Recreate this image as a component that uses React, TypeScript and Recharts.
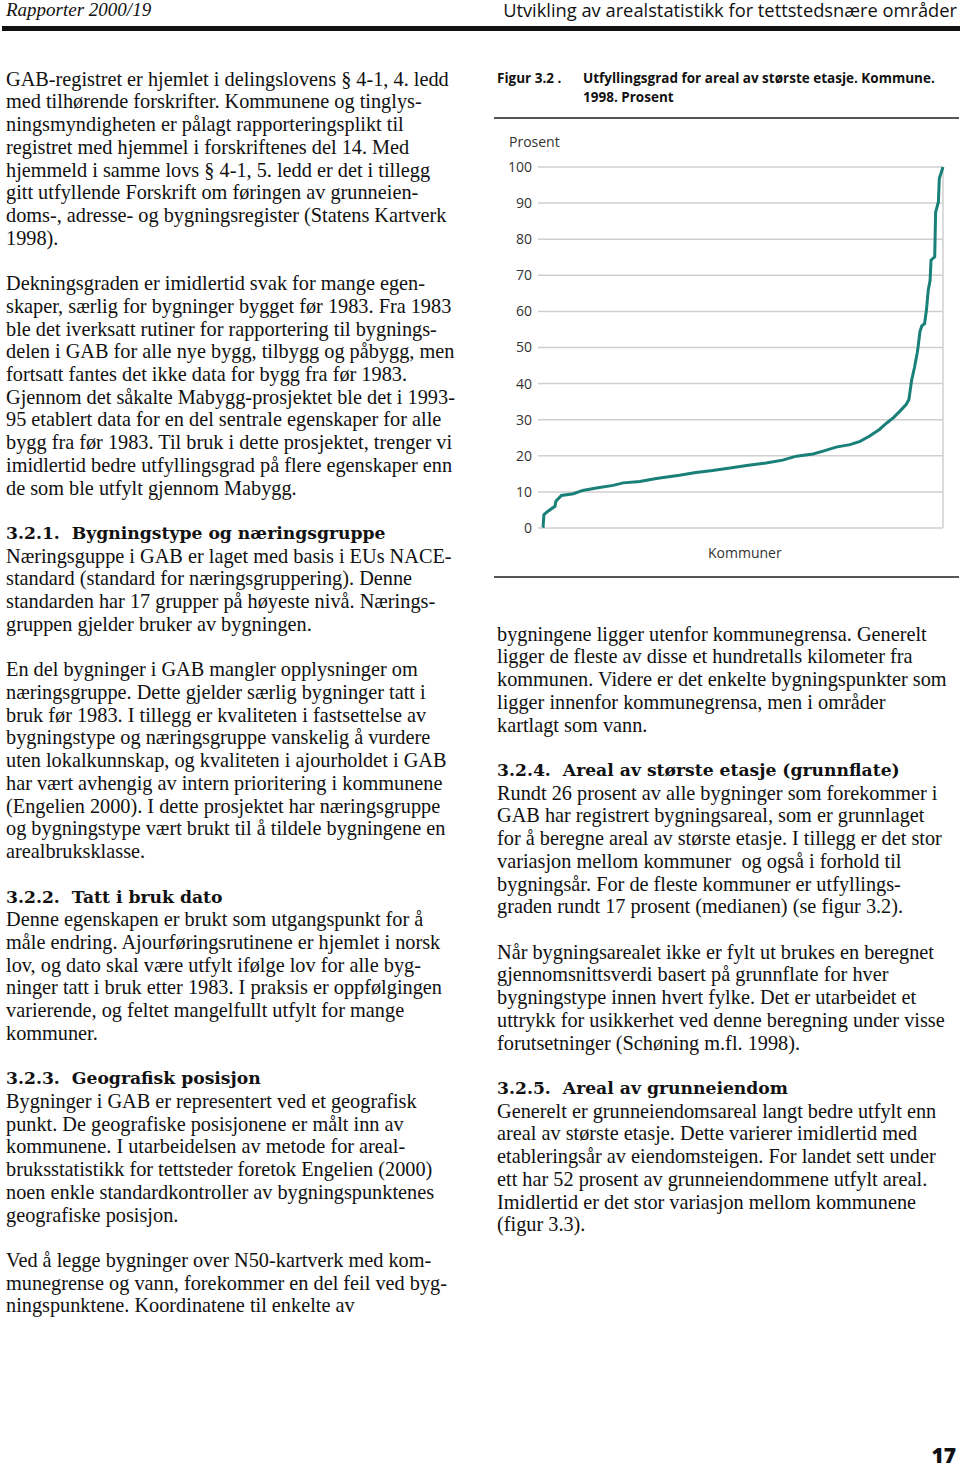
import { LineChart, Line, XAxis, YAxis, CartesianGrid, ReferenceLine } from 'recharts'

// rank of kommune (sorted) and share of buildings with area filled in, percent
const kommuneRank = [
  0, 1, 5, 13, 14, 20, 33, 43, 58, 76, 87, 105, 123, 148, 166, 184, 203, 221, 242, 260,
  275, 293, 304, 318, 333, 344, 354, 365, 373, 380, 387, 394, 397, 400, 403, 406, 407,
  409, 411, 414, 416, 418, 420, 421, 425, 426, 429, 430, 434,
]
const fillPercent = [
  0, 3.7, 4.6, 6, 7.4, 9, 9.5, 10.4, 11.1, 11.8, 12.5, 12.9, 13.7, 14.6, 15.4, 15.9, 16.6,
  17.3, 18, 18.8, 19.9, 20.5, 21.3, 22.4, 23.1, 24, 25.4, 27.3, 29.1, 30.5, 32.3, 34.2, 35.6,
  41, 44.4, 48.5, 50.2, 54.4, 56, 56.6, 60.3, 65.9, 68.6, 74.2, 75.1, 87.5, 90.3, 96.8, 100,
]
const yTicks = [0, 10, 20, 30, 40, 50, 60, 70, 80, 90, 100]

const data = kommuneRank.map((r, i) => ({ rank: r, pct: fillPercent[i] }))

const leftLines = [
  'GAB-registret er hjemlet i delingslovens § 4-1, 4. ledd',
  'med tilhørende forskrifter. Kommunene og tinglys-',
  'ningsmyndigheten er pålagt rapporteringsplikt til',
  'registret med hjemmel i forskriftenes del 14. Med',
  'hjemmeld i samme lovs § 4-1, 5. ledd er det i tillegg',
  'gitt utfyllende Forskrift om føringen av grunneien-',
  'doms-, adresse- og bygningsregister (Statens Kartverk',
  '1998).',
  '',
  'Dekningsgraden er imidlertid svak for mange egen-',
  'skaper, særlig for bygninger bygget før 1983. Fra 1983',
  'ble det iverksatt rutiner for rapportering til bygnings-',
  'delen i GAB for alle nye bygg, tilbygg og påbygg, men',
  'fortsatt fantes det ikke data for bygg fra før 1983.',
  'Gjennom det såkalte Mabygg-prosjektet ble det i 1993-',
  '95 etablert data for en del sentrale egenskaper for alle',
  'bygg fra før 1983. Til bruk i dette prosjektet, trenger vi',
  'imidlertid bedre utfyllingsgrad på flere egenskaper enn',
  'de som ble utfylt gjennom Mabygg.',
  '',
  '#3.2.1.  Bygningstype og næringsgruppe',
  'Næringsguppe i GAB er laget med basis i EUs NACE-',
  'standard (standard for næringsgruppering). Denne',
  'standarden har 17 grupper på høyeste nivå. Nærings-',
  'gruppen gjelder bruker av bygningen.',
  '',
  'En del bygninger i GAB mangler opplysninger om',
  'næringsgruppe. Dette gjelder særlig bygninger tatt i',
  'bruk før 1983. I tillegg er kvaliteten i fastsettelse av',
  'bygningstype og næringsgruppe vanskelig å vurdere',
  'uten lokalkunnskap, og kvaliteten i ajourholdet i GAB',
  'har vært avhengig av intern prioritering i kommunene',
  '(Engelien 2000). I dette prosjektet har næringsgruppe',
  'og bygningstype vært brukt til å tildele bygningene en',
  'arealbruksklasse.',
  '',
  '#3.2.2.  Tatt i bruk dato',
  'Denne egenskapen er brukt som utgangspunkt for å',
  'måle endring. Ajourføringsrutinene er hjemlet i norsk',
  'lov, og dato skal være utfylt ifølge lov for alle byg-',
  'ninger tatt i bruk etter 1983. I praksis er oppfølgingen',
  'varierende, og feltet mangelfullt utfylt for mange',
  'kommuner.',
  '',
  '#3.2.3.  Geografisk posisjon',
  'Bygninger i GAB er representert ved et geografisk',
  'punkt. De geografiske posisjonene er målt inn av',
  'kommunene. I utarbeidelsen av metode for areal-',
  'bruksstatistikk for tettsteder foretok Engelien (2000)',
  'noen enkle standardkontroller av bygningspunktenes',
  'geografiske posisjon.',
  '',
  'Ved å legge bygninger over N50-kartverk med kom-',
  'munegrense og vann, forekommer en del feil ved byg-',
  'ningspunktene. Koordinatene til enkelte av',
]

const rightLines = [
  'bygningene ligger utenfor kommunegrensa. Generelt',
  'ligger de fleste av disse et hundretalls kilometer fra',
  'kommunen. Videre er det enkelte bygningspunkter som',
  'ligger innenfor kommunegrensa, men i områder',
  'kartlagt som vann.',
  '',
  '#3.2.4.  Areal av største etasje (grunnflate)',
  'Rundt 26 prosent av alle bygninger som forekommer i',
  'GAB har registrert bygningsareal, som er grunnlaget',
  'for å beregne areal av største etasje. I tillegg er det stor',
  'variasjon mellom kommuner  og også i forhold til',
  'bygningsår. For de fleste kommuner er utfyllings-',
  'graden rundt 17 prosent (medianen) (se figur 3.2).',
  '',
  'Når bygningsarealet ikke er fylt ut brukes en beregnet',
  'gjennomsnittsverdi basert på grunnflate for hver',
  'bygningstype innen hvert fylke. Det er utarbeidet et',
  'uttrykk for usikkerhet ved denne beregning under visse',
  'forutsetninger (Schøning m.fl. 1998).',
  '',
  '#3.2.5.  Areal av grunneiendom',
  'Generelt er grunneiendomsareal langt bedre utfylt enn',
  'areal av største etasje. Dette varierer imidlertid med',
  'etableringsår av eiendomsteigen. For landet sett under',
  'ett har 52 prosent av grunneiendommene utfylt areal.',
  'Imidlertid er det stor variasjon mellom kommunene',
  '(figur 3.3).',
]

const LH = 22.73
const serif = '"Liberation Serif", "Times New Roman", serif'
const headSerif = '"DejaVu Serif", "Liberation Serif", serif'
const sans = '"Open Sans", "Noto Sans", sans-serif'

function Column({ lines, left, top }: { lines: string[]; left: number; top: number }) {
  return (
    <div style={{ position: 'absolute', left, top, fontFamily: serif, fontSize: 20.3, lineHeight: `${LH}px`, color: '#111' }}>
      {lines.map((l, i) => {
        const head = l.startsWith('#')
        return (
          <div
            key={i}
            style={{
              whiteSpace: 'pre',
              height: LH,
              fontWeight: head ? 700 : 400,
              fontFamily: head ? headSerif : serif,
              fontSize: head ? 17.2 : 20.3,
            }}
          >
            {head ? l.slice(1) : l}
          </div>
        )
      })}
    </div>
  )
}

export default function App() {
  return (
    <div style={{ position: 'absolute', left: 0, top: 0, width: 960, height: 1465, background: '#fff', overflow: 'hidden' }}>
      {/* running header */}
      <div style={{ position: 'absolute', left: 6, top: 1, fontFamily: serif, fontStyle: 'italic', fontSize: 19, lineHeight: '17px', color: '#111' }}>
        Rapporter 2000/19
      </div>
      <div style={{ position: 'absolute', right: 3, top: 1, fontFamily: sans, fontSize: 18.3, lineHeight: '17px', color: '#111' }}>
        Utvikling av arealstatistikk for tettstedsnære områder
      </div>
      <div style={{ position: 'absolute', left: 2, top: 26, width: 958, height: 5, background: '#111' }} />

      <Column lines={leftLines} left={6} top={79 - LH / 2} />
      <Column lines={rightLines} left={497} top={634 - LH / 2} />

      {/* figure caption */}
      <div style={{ position: 'absolute', left: 497, top: 69, fontFamily: sans, fontWeight: 700, fontSize: 13.5, color: '#111' }}>
        Figur 3.2 .
      </div>
      <div style={{ position: 'absolute', left: 583, top: 69, fontFamily: sans, fontWeight: 700, fontSize: 13.5, lineHeight: '19px', color: '#111' }}>
        Utfyllingsgrad for areal av største etasje. Kommune.<br />1998. Prosent
      </div>
      <div style={{ position: 'absolute', left: 494, top: 117, width: 465, height: 1.5, background: '#555' }} />

      <div style={{ position: 'absolute', left: 509, top: 132, fontFamily: sans, fontSize: 14, color: '#333' }}>Prosent</div>

      <div style={{ position: 'absolute', left: 494, top: 150 }}>
        <LineChart width={460} height={400} data={data} margin={{ top: 17, right: 11, bottom: 22, left: 9 }}>
          <CartesianGrid horizontal vertical={false} stroke="#cfcfcf" strokeWidth={1.5} />
          <XAxis dataKey="rank" type="number" domain={[0, 434]} hide />
          <YAxis
            type="number"
            domain={[0, 100]}
            ticks={yTicks}
            width={40}
            axisLine={false}
            tickSize={5}
            tickMargin={6}
            tickLine={{ stroke: '#cfcfcf', strokeWidth: 1.5 }}
            tick={{ fontSize: 14, fill: '#333', fontFamily: sans }}
          />
          <ReferenceLine x={434} stroke="#cfcfcf" strokeWidth={1.5} />
          <Line
            type="linear"
            dataKey="pct"
            stroke="#197f79"
            strokeWidth={3}
            dot={false}
            isAnimationActive={false}
          />
        </LineChart>
      </div>

      <div style={{ position: 'absolute', left: 708, top: 543, fontFamily: sans, fontSize: 14, color: '#333' }}>Kommuner</div>
      <div style={{ position: 'absolute', left: 494, top: 576, width: 465, height: 1.5, background: '#555' }} />

      <div style={{ position: 'absolute', right: 4, top: 1447, fontFamily: sans, fontWeight: 800, fontSize: 21, lineHeight: '16px', color: '#111' }}>17</div>
    </div>
  )
}
